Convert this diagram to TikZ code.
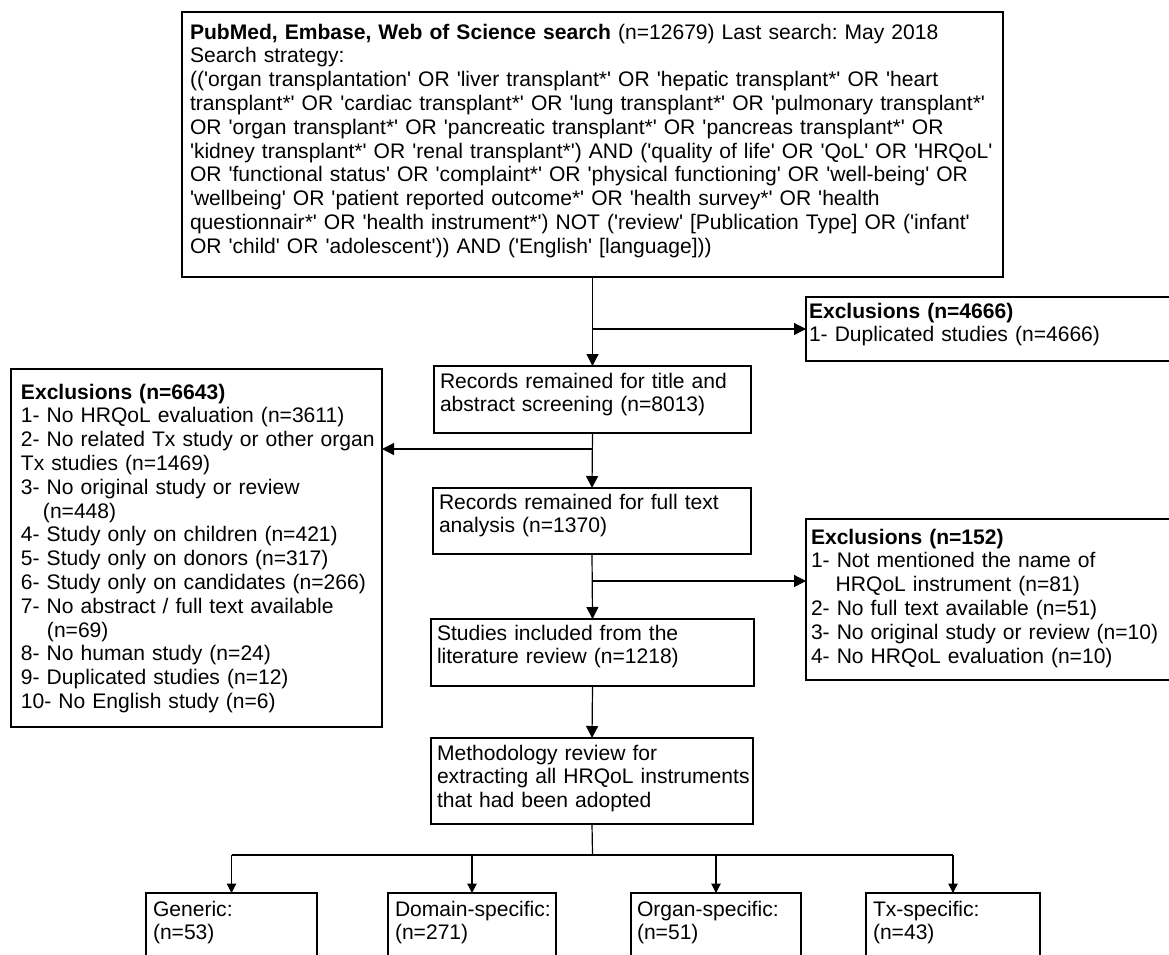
\documentclass[tikz,border=0pt]{standalone}
\usepackage{fontspec}
\setmainfont{Liberation Sans}[Ligatures=TeXOff]
\usetikzlibrary{arrows.meta}
\newlength\px
\setlength\px{0.75pt}
\frenchspacing
\begin{document}
\begin{tikzpicture}[x=0.75pt,y=-0.75pt,
  box/.style={draw=black, line width=0.9pt, anchor=north west, inner sep=0pt, outer sep=0pt},
  txt/.style={anchor=base west, inner sep=0pt, outer sep=0pt, align=left, text width=#1,
    font=\fontsize{15.8pt}{17.85pt}\selectfont\frenchspacing},
  txt/.default=600pt,
  arr/.style={draw=black, line width=0.9pt, -{Triangle[width=9pt,length=9pt]}},
  sarr/.style={draw=black, line width=0.8pt, -{Triangle[width=7pt,length=7pt]}},
  plain/.style={draw=black, line width=0.9pt}]
\useasboundingbox (0,0) rectangle (1169,954);
\fill[white] (0,0) rectangle (1169,954);
\clip (0,0) rectangle (1169,954);

% boxes
\node[box, minimum width=821\px, minimum height=265\px] (top) at (182,12) {};
\node[box, minimum width=450\px, minimum height=64\px] (ex1) at (806,297) {};
\node[box, minimum width=317\px, minimum height=67\px] (b1) at (434,366) {};
\node[box, minimum width=371\px, minimum height=358\px] (exL) at (11,369) {};
\node[box, minimum width=318\px, minimum height=66\px] (b2) at (433,488) {};
\node[box, minimum width=450\px, minimum height=161\px] (ex2) at (806,519) {};
\node[box, minimum width=323\px, minimum height=67\px] (b3) at (431,619) {};
\node[box, minimum width=322\px, minimum height=86\px] (b4) at (431,738) {};
\node[box, minimum width=171\px, minimum height=120\px] (g1) at (146,893) {};
\node[box, minimum width=168\px, minimum height=120\px] (g2) at (388,893) {};
\node[box, minimum width=170\px, minimum height=120\px] (g3) at (631,893) {};
\node[box, minimum width=174\px, minimum height=120\px] (g4) at (866,893) {};

% texts
\node[txt=810\px] (toptext) at (190,39) {\textbf{PubMed, Embase, Web of Science search} (n=12679) Last search: May 2018\\
Search strategy:\\
(('organ transplantation' OR 'liver transplant*' OR 'hepatic transplant*' OR 'heart\\
transplant*' OR 'cardiac transplant*' OR 'lung transplant*' OR 'pulmonary transplant*'\\
OR 'organ transplant*' OR 'pancreatic transplant*' OR 'pancreas transplant*' OR\\
'kidney transplant*' OR 'renal transplant*') AND ('quality of life' OR 'QoL' OR 'HRQoL'\\
OR 'functional status' OR 'complaint*' OR 'physical functioning' OR 'well-being' OR\\
'wellbeing' OR 'patient reported outcome*' OR 'health survey*' OR 'health\\
questionnair*' OR 'health instrument*') NOT ('review' [Publication Type] OR ('infant'\\
OR 'child' OR 'adolescent')) AND ('English' [language]))};

\node[txt=400\px] (ex1text) at (809,318) {\textbf{Exclusions (n=4666)}\\
1- Duplicated studies (n=4666)};

\node[txt=320\px] (b1text) at (440,388) {Records remained for title and\\
abstract screening (n=8013)};

\node[txt=380\px] (exLtext) at (21,399) {\textbf{Exclusions (n=6643)}\\
1- No HRQoL evaluation (n=3611)\\
2- No related Tx study or other organ\\
Tx studies (n=1469)\\
3- No original study or review\\
\hspace*{22\px}(n=448)\\
4- Study only on children (n=421)\\
5- Study only on donors (n=317)\\
6- Study only on candidates (n=266)\\
7- No abstract / full text available\\
\hspace*{26\px}(n=69)\\
8- No human study (n=24)\\
9- Duplicated studies (n=12)\\
10- No English study (n=6)};

\node[txt=320\px] (b2text) at (439,509) {Records remained for full text\\
analysis (n=1370)};

\node[txt=400\px] (ex2text) at (811,544) {\textbf{Exclusions (n=152)}\\
1- Not mentioned the name of\\
\hspace*{24.7\px}HRQoL instrument (n=81)\\
2- No full text available (n=51)\\
3- No original study or review (n=10)\\
4- No HRQoL evaluation (n=10)};

\node[txt=320\px] (b3text) at (437,640) {Studies included from the\\
literature review (n=1218)};

\node[txt=330\px] (b4text) at (437,760) {Methodology review for\\
extracting all HRQoL instruments\\
that had been adopted};

\node[txt=170\px] (g1text) at (153,916) {Generic:\\(n=53)};
\node[txt=170\px] (g2text) at (395,916) {Domain-specific:\\(n=271)};
\node[txt=170\px] (g3text) at (637,916) {Organ-specific:\\(n=51)};
\node[txt=170\px] (g4text) at (873,916) {Tx-specific:\\(n=43)};

% connectors
\coordinate (jL) at (592.5,449);
\coordinate (jR) at (592.5,581);
\coordinate (bus) at (592.5,855);

\draw[arr] (top.south) -- (b1.north);
\draw[arr] (top.south |- ex1.west) -- (ex1.west);
\draw[arr] (b1.south) -- (b2.north);
\draw[arr] (jL) -- (jL -| exL.east);
\draw[arr] (b2.south) -- (b3.north);
\draw[arr] (jR) -- (jR -| ex2.west);
\draw[arr] (b3.south) -- (b4.north);
\draw[plain] (b4.south) -- (bus);
\draw[plain] (g1.north |- bus) -- (g4.north |- bus);
\foreach \g in {g1,g2,g3,g4}{
  \draw[sarr] (\g.north |- bus) -- (\g.north);
}
\end{tikzpicture}
\end{document}
